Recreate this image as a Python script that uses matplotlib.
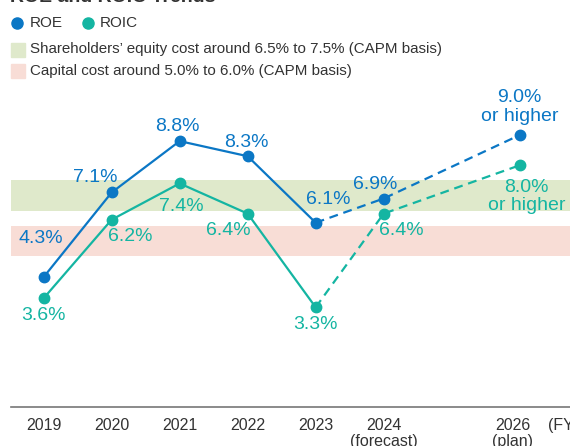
import matplotlib
matplotlib.use("Agg")
import matplotlib.pyplot as plt
import matplotlib.transforms as mtransforms
from matplotlib.lines import Line2D

plt.rcParams['font.family'] = ['Liberation Sans', 'DejaVu Sans']

# Fiscal years and returns (%)
years = [2019, 2020, 2021, 2022, 2023, 2024, 2026]
roe = [4.3, 7.1, 8.8, 8.3, 6.1, 6.9, 9.0]
roic = [3.6, 6.2, 7.4, 6.4, 3.3, 6.4, 8.0]
n_actual = 5  # 2019-2023 are results, the rest forecast / plan

roe_labels = ['4.3%', '7.1%', '8.8%', '8.3%', '6.1%', '6.9%', '9.0%\nor higher']
roic_labels = ['3.6%', '6.2%', '7.4%', '6.4%', '3.3%', '6.4%', '8.0%\nor higher']
tick_labels = ['2019', '2020', '2021', '2022', '2023', '2024\n(forecast)', '2026\n(plan)']

equity_cost = (6.5, 7.5)
capital_cost = (5.0, 6.0)

ROE_C = '#0b77c5'
ROIC_C = '#14b5a2'
GREEN = '#dfe9cb'
RED = '#f8ddd6'
TXT = '#333333'

fig = plt.figure(figsize=(5.7, 4.46), dpi=100)
ax = fig.add_axes([0.0193, 0.0874, 0.9807, 0.9126])
ax.set_xlim(2018.52, 2026.74)
ax.set_ylim(0, 13.47)

ax.axhspan(*equity_cost, color=GREEN, lw=0, zorder=0)
ax.axhspan(*capital_cost, color=RED, lw=0, zorder=0)

dash = (0, (4, 2.6))
for vals, col in [(roe, ROE_C), (roic, ROIC_C)]:
    ax.plot(years[:n_actual], vals[:n_actual], color=col, lw=1.6, zorder=2)
    ax.plot(years[n_actual - 1:], vals[n_actual - 1:], color=col, lw=1.6,
            linestyle=dash, zorder=2)
    ax.plot(years, vals, 'o', color=col, ms=7.5, zorder=3)

# label offsets in pixels from each point
roe_off = [(-3, 39), (-16, 15), (-2, 15), (-1, 14), (13, 23), (-8, 14), (0, 28)]
roic_off = [(0, -17), (19, -17), (2, -23), (-19, -17), (0, -17), (18, -17), (7, -31)]

for x, y, s, off in zip(years, roe, roe_labels, roe_off):
    ax.annotate(s, (x, y), xytext=off, textcoords='offset pixels',
                ha='center', va='center', color=ROE_C, fontsize=14,
                linespacing=1.1)
for x, y, s, off in zip(years, roic, roic_labels, roic_off):
    ax.annotate(s, (x, y), xytext=off, textcoords='offset pixels',
                ha='center', va='center', color=ROIC_C, fontsize=14,
                linespacing=1.1)

ax.set_xticks(years)
ax.set_xticklabels(tick_labels, fontsize=11.5, color=TXT, linespacing=1.1)
ax.tick_params(axis='x', length=0, pad=8)
# the plan year label sits a little left of its point
shift = mtransforms.ScaledTranslation(-7 / 100, 0, fig.dpi_scale_trans)
last = ax.get_xticklabels()[-1]
last.set_transform(last.get_transform() + shift)
ax.set_yticks([])
for side in ['top', 'right', 'left']:
    ax.spines[side].set_visible(False)
ax.spines['bottom'].set_color('#777777')
ax.spines['bottom'].set_linewidth(1.2)
ax.set_facecolor('none')

ax.annotate('(FY)', (2026, 0), xytext=(28, -18), textcoords='offset pixels',
            fontsize=11.5, color=TXT, va='center', ha='left')

# title, mostly above the top edge
fig.text(10 / 570, 1 - 2 / 446, 'ROE and ROIC Trends', fontsize=14,
         fontweight='bold', color=TXT, va='baseline', ha='left')


# legend
def fx(px):
    return px / 570


def fy(py):
    return 1 - py / 446


fig.add_artist(Line2D([fx(17)], [fy(23)], marker='o', ms=8, color=ROE_C,
                      transform=fig.transFigure))
fig.text(fx(30), fy(23), 'ROE', fontsize=11, color=TXT, va='center')
fig.add_artist(Line2D([fx(88)], [fy(23)], marker='o', ms=8, color=ROIC_C,
                      transform=fig.transFigure))
fig.text(fx(100), fy(23), 'ROIC', fontsize=11, color=TXT, va='center')

fig.add_artist(Line2D([fx(18)], [fy(49.5)], marker='s', ms=10, color=GREEN,
                      transform=fig.transFigure))
fig.text(fx(30), fy(49.5),
         'Shareholders\u2019 equity cost around 6.5% to 7.5% (CAPM basis)',
         fontsize=10.9, color=TXT, va='center')
fig.add_artist(Line2D([fx(18)], [fy(70.5)], marker='s', ms=10, color=RED,
                      transform=fig.transFigure))
fig.text(fx(30), fy(70.5), 'Capital cost around 5.0% to 6.0% (CAPM basis)',
         fontsize=10.9, color=TXT, va='center')

fig.savefig('out.png', dpi=100)
